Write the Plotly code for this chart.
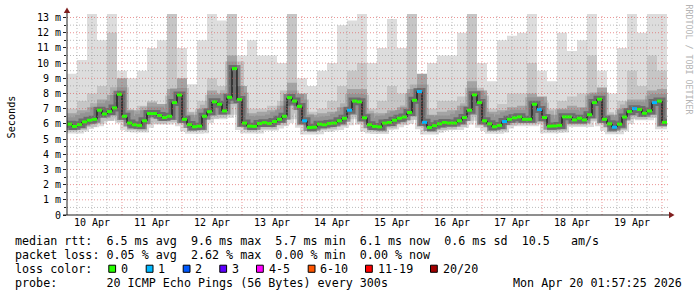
import plotly.graph_objects as go
import pandas as pd

# ---------------- data ----------------
START = pd.Timestamp("2026-04-10 02:00")
END = pd.Timestamp("2026-04-20 02:00")
MED_STEP = pd.Timedelta(hours=2)
SMOKE_STEP = pd.Timedelta(hours=4)

# median RTT (ms), one value per 2 hours
median_ms = [
    5.98, 5.83, 5.95, 6.13, 6.24, 6.30, 6.90, 6.65, 6.81, 7.05,
    7.95, 6.50, 6.05, 5.94, 5.90, 6.20, 6.68, 6.68, 6.55, 6.42,
    6.50, 7.40, 7.90, 6.30, 5.95, 5.81, 5.85, 6.50, 6.80, 7.45,
    7.29, 6.85, 7.75, 9.64, 7.60, 6.05, 5.85, 5.83, 6.02, 6.08,
    6.02, 6.15, 6.30, 6.50, 7.73, 7.50, 7.15, 6.20, 5.76, 5.78,
    5.98, 5.94, 6.02, 6.05, 6.20, 6.37, 6.90, 7.50, 7.45, 6.40,
    5.94, 5.83, 5.80, 6.05, 6.09, 6.24, 6.37, 6.45, 6.75, 7.55,
    8.13, 6.10, 5.76, 5.88, 6.00, 6.09, 6.05, 6.05, 6.20, 6.42,
    6.90, 7.91, 7.40, 6.20, 6.00, 5.81, 5.90, 6.15, 6.30, 6.40,
    6.46, 6.30, 6.30, 7.29, 6.95, 6.42, 5.85, 5.86, 5.90, 6.46,
    6.46, 6.26, 6.37, 6.26, 6.60, 7.40, 7.62, 6.30, 6.00, 5.78,
    5.98, 6.45, 6.81, 7.00, 6.95, 6.70, 6.85, 7.40, 7.50, 6.10,
]
# steps (index into median_ms) where 1 of 20 pings was lost
lossy_steps = [47, 56, 70, 71, 87, 94, 109, 113, 117]

# smoke envelope (ms), one value per 4 hours
smoke_top = [
    9.3, 10.2, 13.3, 11.5, 13.3, 9.5, 9.0, 9.5, 11.0, 11.5, 13.3, 11.0, 8.6, 11.5, 13.3,
    12.8, 13.3, 10.5, 11.5, 10.5, 10.5, 10.0, 13.3, 9.0, 8.5, 9.5, 10.0, 12.5, 12.8, 13.3,
    10.0, 11.0, 12.9, 11.0, 13.3, 9.0, 10.0, 10.5, 10.5, 12.0, 13.3, 10.0, 8.8, 11.5, 11.8,
    12.0, 13.3, 9.5, 8.8, 12.0, 10.8, 11.5, 13.3, 9.5, 8.0, 11.0, 13.3, 12.0, 13.3, 13.3,
]
smoke_mid = [
    7.0, 7.5, 8.0, 8.5, 12.0, 7.0, 6.6, 7.2, 7.5, 7.3, 13.3, 7.5, 6.8, 7.5, 9.0,
    8.5, 13.3, 7.5, 7.0, 7.0, 7.2, 7.5, 13.3, 7.5, 6.8, 7.0, 7.5, 8.5, 9.5, 10.0,
    7.0, 7.5, 8.5, 8.0, 13.3, 7.5, 7.0, 7.5, 7.5, 7.8, 13.3, 8.0, 7.0, 7.3, 8.0,
    8.0, 10.0, 7.5, 7.0, 7.5, 7.8, 8.0, 10.5, 7.5, 6.6, 7.5, 9.5, 8.5, 10.5, 9.5,
]
dark_top = [
    6.7, 6.9, 7.1, 7.6, 7.9, 9.0, 6.9, 6.9, 7.4, 7.3, 8.3, 9.0, 6.6, 7.0, 8.2,
    8.0, 10.5, 8.5, 6.7, 6.8, 6.9, 7.2, 8.7, 8.0, 6.6, 6.7, 6.8, 7.1, 8.3, 8.3,
    6.7, 6.7, 6.9, 7.1, 8.3, 9.3, 6.6, 6.8, 6.9, 7.2, 8.8, 8.2, 6.8, 6.9, 7.1,
    7.2, 8.0, 7.8, 6.6, 7.0, 7.2, 7.1, 8.0, 8.4, 6.6, 7.0, 7.6, 7.6, 8.2, 8.3,
]
smoke_low = [
    5.5, 5.6, 5.8, 6.0, 6.2, 6.1, 5.6, 5.55, 6.0, 6.0, 6.1, 6.0, 5.5, 5.55, 6.3,
    6.3, 6.6, 5.8, 5.5, 5.65, 5.65, 5.9, 6.3, 5.9, 5.45, 5.6, 5.65, 5.85, 6.3, 6.0,
    5.5, 5.45, 5.7, 5.95, 6.25, 5.9, 5.45, 5.6, 5.65, 5.8, 6.2, 5.9, 5.5, 5.55, 5.9,
    5.95, 5.95, 6.0, 5.5, 5.55, 5.9, 5.9, 6.2, 6.0, 5.45, 5.6, 6.3, 6.3, 6.4, 5.8,
]
dark_low = [
    5.6, 5.7, 6.0, 6.4, 6.55, 6.25, 5.7, 5.65, 6.4, 6.2, 6.25, 6.05, 5.55, 5.6, 6.55,
    6.6, 7.3, 5.8, 5.6, 5.8, 5.8, 6.05, 7.2, 5.95, 5.5, 5.7, 5.8, 5.95, 6.6, 6.15,
    5.6, 5.55, 5.85, 6.1, 6.5, 5.85, 5.5, 5.75, 5.8, 5.95, 6.6, 5.95, 5.55, 5.65, 6.05,
    6.05, 6.05, 6.15, 5.6, 5.65, 6.0, 6.0, 6.35, 6.05, 5.5, 5.7, 6.55, 6.45, 6.6, 5.85,
]

y_tick_vals = [0, 1, 2, 3, 4, 5, 6, 7, 8, 9, 10, 11, 12, 13]
y_tick_text = ["0", "1 m", "2 m", "3 m", "4 m", "5 m", "6 m", "7 m", "8 m",
               "9 m", "10 m", "11 m", "12 m", "13 m"]

loss_labels = ["0", "1", "2", "3", "4-5", "6-10", "11-19", "20/20"]
loss_colors = ["#26ff00", "#00b8ff", "#0059ff", "#5e00ff", "#ff00ff",
               "#ff5500", "#ff0000", "#a10000"]

stat_line_rtt = "median rtt:  6.5 ms avg  9.6 ms max  5.7 ms min  6.1 ms now  0.6 ms sd  10.5   am/s"
stat_line_loss = "packet loss: 0.05 % avg  2.62 % max  0.00 % min  0.00 % now"
probe_label = "probe:       20 ICMP Echo Pings (56 Bytes) every 300s"
stamp_label = "Mon Apr 20 01:57:25 2026"
y_title = "Seconds"
watermark = "RRDTOOL / TOBI OETIKER"

# ---------------- geometry / style ----------------
W, H = 697, 297
L, T, PW, PH = 67, 14, 600, 201
MONO = "DejaVu Sans Mono"


def px(x):
    return (x - L) / PW


def py(y):
    return (T + PH - y) / PH


def nb(s):
    return s.replace(" ", "\u00a0")


fig = go.Figure()

# ---------------- smoke ----------------
t_smoke = [START + SMOKE_STEP * j for j in range(len(smoke_top))] + [END]


def ext(a):
    return list(a) + [a[-1]]


def band(lower, upper, color):
    fig.add_trace(go.Scatter(x=t_smoke, y=ext(lower), mode="lines",
                             line=dict(width=0, shape="hv"), hoverinfo="skip",
                             showlegend=False))
    fig.add_trace(go.Scatter(x=t_smoke, y=ext(upper), mode="lines",
                             line=dict(width=0, shape="hv"), fill="tonexty",
                             fillcolor=color, hoverinfo="skip", showlegend=False))


band(smoke_low, smoke_top, "#dddddd")
band(dark_low, smoke_mid, "#c6c6c6")
band(dark_low, dark_top, "#a4a4a4")

# ---------------- median ----------------
t_med = [START + MED_STEP * i for i in range(len(median_ms))] + [END]
for wid, col in [(14, "rgba(90,90,90,0.22)"), (7, "rgba(60,60,60,0.45)")]:
    fig.add_trace(go.Scatter(x=t_med, y=ext(median_ms), mode="lines",
                             line=dict(width=wid, shape="hv", color=col),
                             hoverinfo="skip", showlegend=False))
fig.add_trace(go.Scatter(x=t_med, y=ext(median_ms), mode="lines",
                         line=dict(width=1, shape="hv", color="#000000"),
                         hoverinfo="skip", showlegend=False))

for lossval, color in [(0, loss_colors[0]), (1, loss_colors[1])]:
    xs, ys = [], []
    for i, v in enumerate(median_ms):
        lost = 1 if i in lossy_steps else 0
        if lost != lossval:
            continue
        xs += [t_med[i], t_med[i + 1], None]
        ys += [v, v, None]
    fig.add_trace(go.Scatter(x=xs, y=ys, mode="lines",
                             line=dict(width=3, color=color),
                             hoverinfo="skip", showlegend=False))

# ---------------- grid (drawn above the smoke, like rrdtool) ----------------
shapes = []
for t in pd.date_range("2026-04-10 06:00", "2026-04-20 00:00", freq="6h"):
    major = t.hour == 0
    shapes.append(dict(type="line", xref="x", yref="paper", x0=t, x1=t, y0=0, y1=1,
                       layer="above",
                       line=dict(width=1, dash="1px,2px",
                                 color="rgba(222,79,79,0.6)" if major else "rgba(143,143,143,0.6)")))
for k in range(1, 27):
    v = k * 0.5
    major = k % 2 == 0
    shapes.append(dict(type="line", xref="paper", yref="y", x0=0, x1=1.003, y0=v, y1=v,
                       layer="above",
                       line=dict(width=1, dash="1px,2px",
                                 color="rgba(222,79,79,0.6)" if major else "rgba(143,143,143,0.6)")))

# axes lines + arrows
shapes.append(dict(type="line", xref="paper", yref="paper", x0=px(67), x1=px(67),
                   y0=py(215), y1=py(11), line=dict(color="#1f1f1f", width=1), layer="above"))
shapes.append(dict(type="line", xref="paper", yref="paper", x0=px(63), x1=px(670),
                   y0=py(215), y1=py(215), line=dict(color="#1f1f1f", width=1), layer="above"))
shapes.append(dict(type="path", xref="paper", yref="paper",
                   path=f"M {px(67)} {py(7.5)} L {px(63.8)} {py(13)} L {px(70.2)} {py(13)} Z",
                   fillcolor="#801f1f", line=dict(width=0), layer="above"))
shapes.append(dict(type="path", xref="paper", yref="paper",
                   path=f"M {px(674.5)} {py(215)} L {px(669)} {py(211.8)} L {px(669)} {py(218.2)} Z",
                   fillcolor="#801f1f", line=dict(width=0), layer="above"))

# loss colour boxes
box_x = [108.3, 145.7, 182.7, 219.3, 256.0, 307.7, 365.0, 430.0]
annotations = []
for bx, lab, col in zip(box_x, loss_labels, loss_colors):
    shapes.append(dict(type="rect", xref="paper", yref="paper",
                       x0=px(bx + 0.5), x1=px(bx + 7.3), y0=py(272.3), y1=py(265.2),
                       fillcolor=col, line=dict(color="#000000", width=1)))
    annotations.append(dict(text=nb(lab), x=px(bx + 12.5), y=py(269),
                            xref="paper", yref="paper", xanchor="left", yanchor="middle",
                            showarrow=False, borderpad=0, borderwidth=0,
                            font=dict(family=MONO, size=11.7, color="#000000")))

for txt, yy in [(stat_line_rtt, 241), (stat_line_loss, 255.3),
                ("loss color:", 269), (probe_label, 283)]:
    annotations.append(dict(text=nb(txt), x=px(15.3), y=py(yy), xref="paper", yref="paper",
                            xanchor="left", yanchor="middle", showarrow=False,
                            borderpad=0, borderwidth=0,
                            font=dict(family=MONO, size=11.7, color="#000000")))
annotations.append(dict(text=nb(stamp_label), x=px(681.5), y=py(283), xref="paper", yref="paper",
                        xanchor="right", yanchor="middle", showarrow=False,
                        borderpad=0, borderwidth=0,
                        font=dict(family=MONO, size=11.7, color="#000000")))
annotations.append(dict(text=y_title, x=px(10.5), y=py(117), xref="paper", yref="paper",
                        xanchor="center", yanchor="middle", textangle=-90, showarrow=False,
                        borderpad=0, borderwidth=0,
                        font=dict(family=MONO, size=10.2, color="#000000")))
annotations.append(dict(text=nb(watermark), x=px(688.5), y=py(59), xref="paper", yref="paper",
                        xanchor="center", yanchor="middle", textangle=90, showarrow=False,
                        borderpad=0, borderwidth=0,
                        font=dict(family=MONO, size=8.3, color="#b4b4b4")))

fig.update_layout(
    width=W, height=H,
    margin=dict(l=L, r=W - L - PW, t=T, b=H - T - PH, pad=0),
    paper_bgcolor="#ffffff", plot_bgcolor="#ffffff",
    showlegend=False,
    shapes=shapes, annotations=annotations,
    xaxis=dict(type="date", range=[START, END], showgrid=False, zeroline=False,
               showline=False, tick0="2026-04-10", dtick=86400000,
               ticklabelmode="period", tickformat="%d %b",
               ticks="", tickfont=dict(family=MONO, size=10, color="#000000")),
    yaxis=dict(range=[0, PH / 15.19], showgrid=False, zeroline=False, showline=False,
               tickvals=y_tick_vals, ticktext=y_tick_text,
               ticks="outside", ticklen=3, tickcolor="#1f1f1f",
               minor=dict(dtick=0.5, ticks="outside", ticklen=2, tickcolor="#1f1f1f",
                          showgrid=False),
               tickfont=dict(family=MONO, size=10, color="#000000")),
)

fig.write_html("out.html")
